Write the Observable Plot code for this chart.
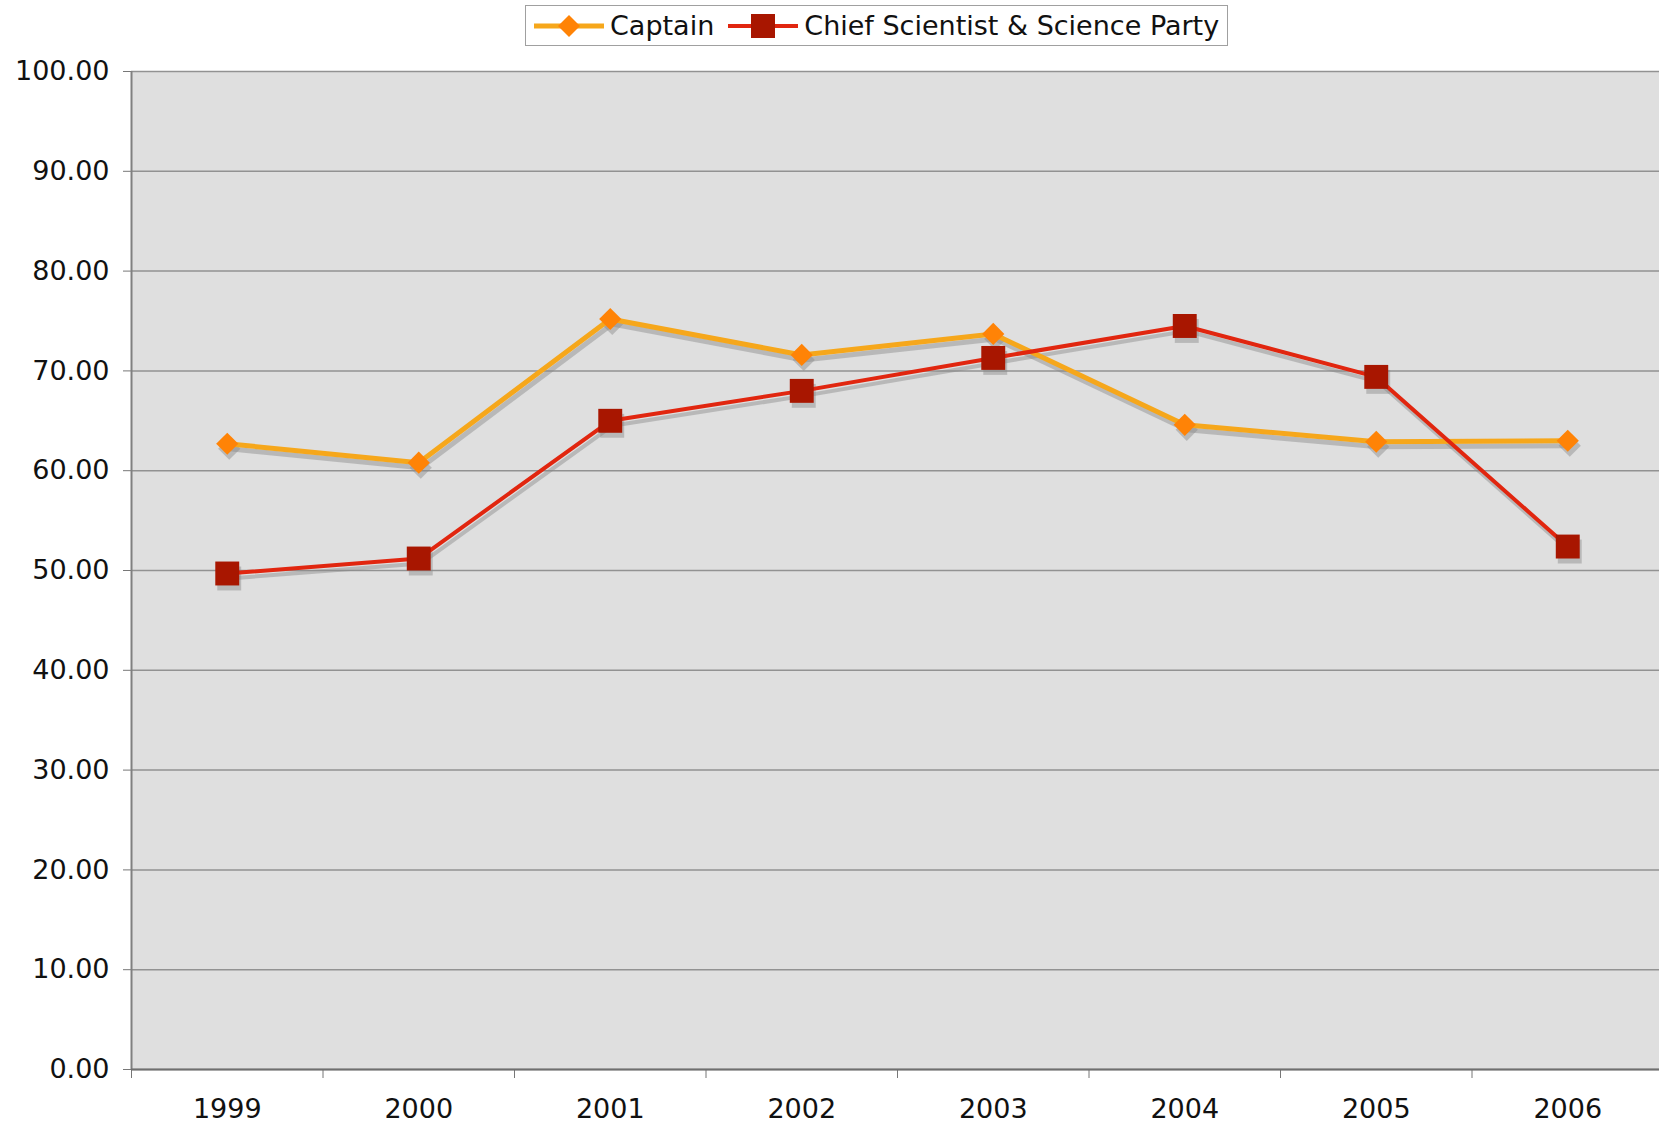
<!DOCTYPE html>
<html>
<head>
<meta charset="utf-8">
<script src="https://cdn.jsdelivr.net/npm/d3@7"></script>
<script src="https://cdn.jsdelivr.net/npm/@observablehq/plot@0.6"></script>
<style>
  html, body { margin: 0; padding: 0; background: #fff; overflow: hidden; }
  body { width: 1659px; height: 1133px; font-family: "DejaVu Sans", Verdana, sans-serif; }
  #legend-wrap { height: 55px; position: relative; }
  #legend {
    position: absolute; left: 525px; top: 5px; width: 703px; height: 41px;
    border: 1.5px solid #a0a0a0; box-sizing: border-box;
    display: flex; align-items: center; font-size: 27px; color: #111;
  }
  #legend .item { display: flex; align-items: center; }
  #legend svg { display: block; }
  #chart { width: 1659px; overflow: hidden; }
  #chart svg { max-width: none !important; }
</style>
</head>
<body>
<div id="legend-wrap"><div id="legend"></div></div>
<div id="chart"></div>
<script>
const years = [1999, 2000, 2001, 2002, 2003, 2004, 2005, 2006];
const captain = [62.7, 60.8, 75.2, 71.6, 73.7, 64.6, 62.9, 63.0];
const chief = [49.7, 51.2, 65.0, 68.0, 71.3, 74.5, 69.4, 52.4];
const seriesNames = ["Captain", "Chief Scientist & Science Party"];
const yTicks = [0, 10, 20, 30, 40, 50, 60, 70, 80, 90, 100];

const lineColors = {"Captain": "#f6a71b", "Chief Scientist & Science Party": "#e1260f"};
const markColors = {"Captain": "#ff8306", "Chief Scientist & Science Party": "#a81600"};

const data = [];
years.forEach((yr, i) => {
  data.push({year: yr, value: captain[i], series: seriesNames[0]});
  data.push({year: yr, value: chief[i], series: seriesNames[1]});
});
const capData = data.filter(d => d.series === seriesNames[0]);
const chiefData = data.filter(d => d.series === seriesNames[1]);
const boundaries = years.map(y => y - 0.5).concat([years[years.length - 1] + 0.5]);

const chart = Plot.plot({
  width: 1666,
  height: 1078,
  marginLeft: 131,
  marginRight: 3,
  marginTop: 16,
  marginBottom: 64,
  style: {fontFamily: '"DejaVu Sans", Verdana, sans-serif', fontSize: "27px", color: "#111", background: "#fff", maxWidth: "none"},
  x: {type: "linear", domain: [years[0] - 0.5, years[years.length - 1] + 0.5]},
  y: {domain: [0, 100]},
  marks: [
    Plot.frame({fill: "#dfdfdf", stroke: "none"}),
    Plot.gridY(yTicks, {stroke: "#929292", strokeOpacity: 1, strokeWidth: 1.5}),
    Plot.axisY({ticks: yTicks, tickFormat: d => d.toFixed(2), tickSize: 8, tickPadding: 14, stroke: "#777", fill: "#111", label: null}),
    Plot.axisX({ticks: boundaries, tickSize: 9, tickFormat: () => "", stroke: "#777", label: null}),
    Plot.axisX({ticks: years, tickSize: 0, tickPadding: 29, tickFormat: d => String(d), fill: "#111", label: null}),
    Plot.ruleX([years[0] - 0.5], {stroke: "#808080", strokeWidth: 2}),
    Plot.ruleY([0], {stroke: "#6f6f6f", strokeWidth: 2}),
    // shadows
    Plot.line(capData, {x: "year", y: "value", dx: 2, dy: 5, stroke: "#8a8a8a", strokeOpacity: 0.45, strokeWidth: 5}),
    Plot.line(chiefData, {x: "year", y: "value", dx: 2, dy: 5, stroke: "#8a8a8a", strokeOpacity: 0.45, strokeWidth: 4}),
    Plot.dot(capData, {x: "year", y: "value", dx: 2, dy: 5, symbol: "diamond2", r: 10, fill: "#8a8a8a", fillOpacity: 0.45, stroke: "none"}),
    Plot.dot(chiefData, {x: "year", y: "value", dx: 2, dy: 5, symbol: "square", r: 13.5, fill: "#8a8a8a", fillOpacity: 0.45, stroke: "none"}),
    // lines
    Plot.line(capData, {x: "year", y: "value", stroke: lineColors[seriesNames[0]], strokeWidth: 5}),
    Plot.line(chiefData, {x: "year", y: "value", stroke: lineColors[seriesNames[1]], strokeWidth: 4}),
    Plot.dot(capData, {x: "year", y: "value", symbol: "diamond2", r: 10, fill: markColors[seriesNames[0]], stroke: "none"}),
    Plot.dot(chiefData, {x: "year", y: "value", symbol: "square", r: 13.5, fill: markColors[seriesNames[1]], stroke: "none"})
  ]
});
document.getElementById("chart").appendChild(chart);

// legend
const legend = document.getElementById("legend");
const syms = {
  "Captain": `<svg width="70" height="30"><line x1="0" y1="15" x2="70" y2="15" stroke="${lineColors["Captain"]}" stroke-width="5"/><path d="M35,4 L46,15 L35,26 L24,15 Z" fill="${markColors["Captain"]}"/></svg>`,
  "Chief Scientist & Science Party": `<svg width="70" height="30"><line x1="0" y1="15" x2="70" y2="15" stroke="${lineColors["Chief Scientist & Science Party"]}" stroke-width="4"/><rect x="23" y="3" width="24" height="24" fill="${markColors["Chief Scientist & Science Party"]}"/></svg>`
};
seriesNames.forEach((name, i) => {
  const it = document.createElement("div");
  it.className = "item";
  it.style.marginLeft = i === 0 ? "8px" : "14px";
  it.innerHTML = syms[name] + `<span style="margin-left:6px">${name.replace("&", "&amp;")}</span>`;
  legend.appendChild(it);
});
</script>
</body>
</html>
